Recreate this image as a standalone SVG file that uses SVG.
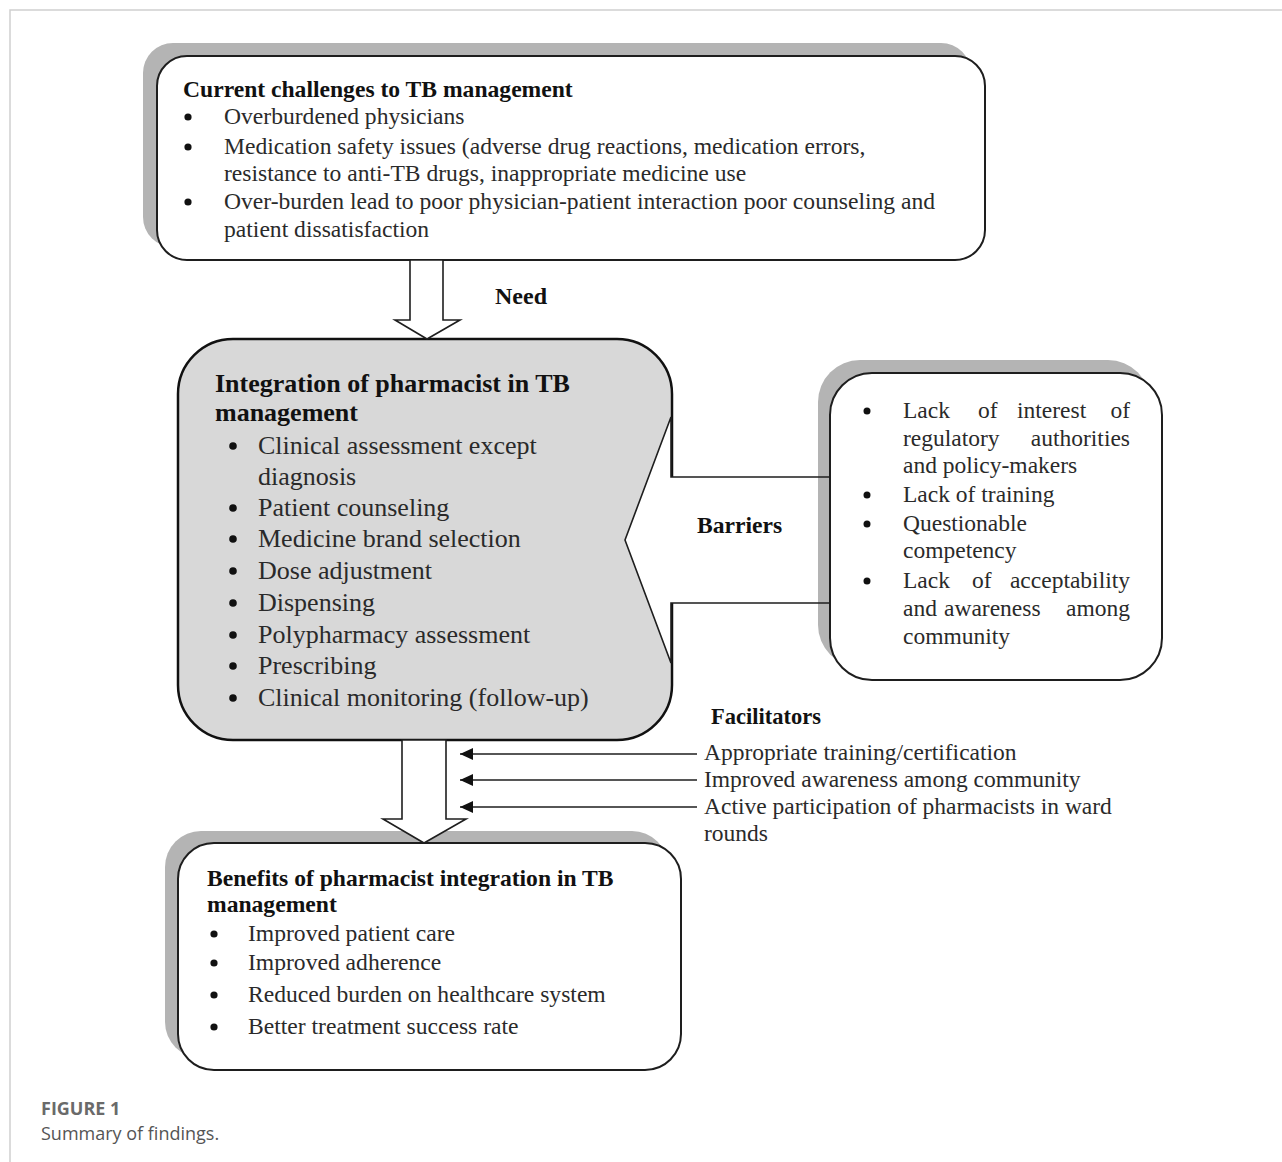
<svg xmlns="http://www.w3.org/2000/svg" width="1282" height="1162" viewBox="0 0 1282 1162">
<defs>
<style>
.frame{stroke:#d0d0d0;stroke-width:1.5;fill:none}
.shadow{fill:#b4b4b4;stroke:none}
.box{fill:#ffffff;stroke:#1e1e1e;stroke-width:2}
.gbox{fill:#d8d8d8;stroke:#111;stroke-width:2.5}
.t{font-family:"Liberation Serif","Times New Roman",serif;fill:#2a2a2a}
.b{font-family:"Liberation Serif","Times New Roman",serif;font-weight:bold;fill:#111}
.s23{font-size:23.6px}
.s26{font-size:26px}
.s22{font-size:23.5px}
.dot{fill:#111}
.hollow{fill:#fff;stroke:#1e1e1e;stroke-width:1.6}
.ln{stroke:#1e1e1e;stroke-width:1.6;fill:none}
.cap{font-family:"Open Sans","Noto Sans",sans-serif;font-size:18px}
</style>
<marker id="ah" markerUnits="userSpaceOnUse" markerWidth="14" markerHeight="12" refX="13" refY="6" orient="auto">
<path d="M0,0 L13,6 L0,12 z" fill="#111"/>
</marker>
</defs>
<rect width="1282" height="1162" fill="#ffffff"/>
<path class="frame" d="M10,1162 V10 H1282"/>

<g id="node-challenges">
<rect class="shadow" x="143" y="43" width="828" height="204" rx="30"/>
<rect class="box" x="157" y="56" width="828" height="204" rx="30"/>
<text class="b s23" x="183" y="97">Current challenges to TB management</text>
<circle class="dot" cx="188" cy="117" r="3.6"/>
<text class="t s23" x="224" y="124">Overburdened physicians</text>
<circle class="dot" cx="188" cy="147" r="3.6"/>
<text class="t s23" x="224" y="154">Medication safety issues (adverse drug reactions, medication errors,</text>
<text class="t s23" x="224" y="181">resistance to anti-TB drugs, inappropriate medicine use</text>
<circle class="dot" cx="188" cy="202" r="3.6"/>
<text class="t s23" x="224" y="209">Over-burden lead to poor physician-patient interaction poor counseling and</text>
<text class="t s23" x="224" y="237">patient dissatisfaction</text>
</g>

<g id="node-integration">
<rect class="gbox" x="178" y="339" width="494" height="401" rx="55"/>
<text class="b s26" x="215" y="392">Integration of pharmacist in TB</text>
<text class="b s26" x="215" y="421">management</text>
<circle class="dot" cx="233" cy="446" r="3.8"/>
<text class="t s26" x="258" y="454">Clinical assessment except</text>
<text class="t s26" x="258" y="485">diagnosis</text>
<circle class="dot" cx="233" cy="508" r="3.8"/>
<text class="t s26" x="258" y="516">Patient counseling</text>
<circle class="dot" cx="233" cy="539" r="3.8"/>
<text class="t s26" x="258" y="547">Medicine brand selection</text>
<circle class="dot" cx="233" cy="571" r="3.8"/>
<text class="t s26" x="258" y="579">Dose adjustment</text>
<circle class="dot" cx="233" cy="603" r="3.8"/>
<text class="t s26" x="258" y="611">Dispensing</text>
<circle class="dot" cx="233" cy="635" r="3.8"/>
<text class="t s26" x="258" y="643">Polypharmacy assessment</text>
<circle class="dot" cx="233" cy="666" r="3.8"/>
<text class="t s26" x="258" y="674">Prescribing</text>
<circle class="dot" cx="233" cy="698" r="3.8"/>
<text class="t s26" x="258" y="706">Clinical monitoring (follow-up)</text>
</g>

<g id="node-barriers">
<rect class="shadow" x="818" y="360" width="332" height="307" rx="42"/>
<rect class="box" x="830" y="373" width="332" height="307" rx="42"/>
<circle class="dot" cx="867" cy="411" r="3.5"/>
<text class="t s22" y="418"><tspan x="903">Lack</tspan><tspan x="978">of</tspan><tspan x="1017">interest</tspan><tspan x="1130" text-anchor="end">of</tspan></text>
<text class="t s22" y="446"><tspan x="903">regulatory</tspan><tspan x="1130" text-anchor="end">authorities</tspan></text>
<text class="t s22" x="903" y="473">and policy-makers</text>
<circle class="dot" cx="867" cy="495" r="3.5"/>
<text class="t s22" x="903" y="502">Lack of training</text>
<circle class="dot" cx="867" cy="524" r="3.5"/>
<text class="t s22" x="903" y="531">Questionable</text>
<text class="t s22" x="903" y="558">competency</text>
<circle class="dot" cx="867" cy="581" r="3.5"/>
<text class="t s22" y="588"><tspan x="903">Lack</tspan><tspan x="972">of</tspan><tspan x="1130" text-anchor="end">acceptability</tspan></text>
<text class="t s22" y="616"><tspan x="903">and</tspan><tspan x="944">awareness</tspan><tspan x="1130" text-anchor="end">among</tspan></text>
<text class="t s22" x="903" y="644">community</text>
</g>

<g id="node-benefits">
<rect class="shadow" x="165" y="831" width="503" height="227" rx="36"/>
<rect class="box" x="178" y="843" width="503" height="227" rx="36"/>
<text class="b s23" x="207" y="886">Benefits of pharmacist integration in TB</text>
<text class="b s23" x="207" y="912">management</text>
<circle class="dot" cx="214" cy="934" r="3.6"/>
<text class="t s23" x="248" y="941">Improved patient care</text>
<circle class="dot" cx="214" cy="963" r="3.6"/>
<text class="t s23" x="248" y="970">Improved adherence</text>
<circle class="dot" cx="214" cy="995" r="3.6"/>
<text class="t s23" x="248" y="1002">Reduced burden on healthcare system</text>
<circle class="dot" cx="214" cy="1027" r="3.6"/>
<text class="t s23" x="248" y="1034">Better treatment success rate</text>
</g>

<g id="connectors">
<path id="arrow-need" class="hollow" d="M410,260 V320 H395 L427,339 L460,320 H443 V260 Z"/>
<text class="b" x="495" y="304" font-size="24">Need</text>
<g id="arrow-barriers">
<path fill="#fff" stroke="none" d="M818,477 H671 V417 L625,540 L671,663 V603 H818 Z"/>
<path class="ln" d="M830,477 H671 V417 L625,540 L671,663 V603 H830"/>
</g>
<text class="b s23" x="697" y="533" font-size="23">Barriers</text>
<path id="arrow-benefits" class="hollow" d="M402,740 V819 H383 L424,843 L466,819 H446 V740 Z"/>
<text class="b" x="711" y="724" font-size="22.5">Facilitators</text>
<line class="ln" x1="697" y1="754" x2="460" y2="754" marker-end="url(#ah)"/>
<line class="ln" x1="697" y1="780" x2="460" y2="780" marker-end="url(#ah)"/>
<line class="ln" x1="697" y1="807" x2="460" y2="807" marker-end="url(#ah)"/>
<text class="t s22" x="704" y="760">Appropriate training/certification</text>
<text class="t s22" x="704" y="787">Improved awareness among community</text>
<text class="t s22" x="704" y="814">Active participation of pharmacists in ward</text>
<text class="t s22" x="704" y="841">rounds</text>
</g>

<text class="cap" x="41" y="1115" font-weight="bold" fill="#6a6a6a">FIGURE 1</text>
<text class="cap" x="41" y="1140" fill="#555">Summary of findings.</text>
</svg>
